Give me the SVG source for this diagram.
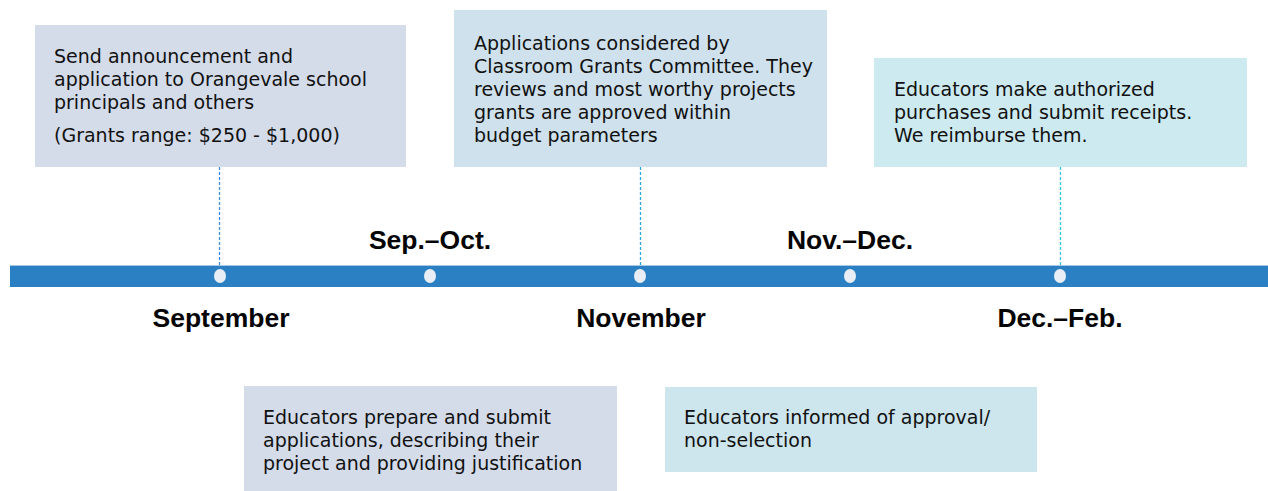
<svg xmlns="http://www.w3.org/2000/svg" width="1268" height="491" viewBox="0 0 1268 491">
<style>
.body{font-family:"DejaVu Sans","Liberation Sans",sans-serif;font-size:19px;fill:#111111}
.lbl{font-family:"Liberation Sans",Arial,sans-serif;font-size:26.5px;font-weight:bold;fill:#050505;text-anchor:middle}
.dash{stroke-width:1.3;stroke-dasharray:3 2;fill:none}
.dot{fill:#e9eef6}
</style>
<rect width="1268" height="491" fill="#ffffff"/>
<g id="connectors">
<line class="dash" x1="219.5" y1="167" x2="219.5" y2="265" stroke="#3d8ee0"/>
<line class="dash" x1="640.5" y1="167" x2="640.5" y2="265" stroke="#2aa6e0"/>
<line class="dash" x1="1060.5" y1="167" x2="1060.5" y2="265" stroke="#2cc4e0"/>
</g>
<g id="timeline">
<rect x="10" y="265" width="1258" height="22" fill="#2a80c2"/>
<line x1="10" y1="265.5" x2="1268" y2="265.5" stroke="#a9c6e2" stroke-width="1"/>
<ellipse class="dot" cx="220" cy="276" rx="6" ry="7"/>
<ellipse class="dot" cx="430" cy="276" rx="6" ry="7"/>
<ellipse class="dot" cx="640" cy="276" rx="6" ry="7"/>
<ellipse class="dot" cx="850" cy="276" rx="6" ry="7"/>
<ellipse class="dot" cx="1060" cy="276" rx="6" ry="7"/>
</g>
<g id="labels">
<text class="lbl" x="221" y="327">September</text>
<text class="lbl" x="430" y="249">Sep.–Oct.</text>
<text class="lbl" x="641" y="327">November</text>
<text class="lbl" x="850" y="249">Nov.–Dec.</text>
<text class="lbl" x="1060" y="327">Dec.–Feb.</text>
</g>
<g id="box1">
<rect x="35" y="25" width="371" height="142" fill="#d4dcea"/>
<text class="body" x="54" y="63">Send announcement and</text>
<text class="body" x="54" y="86">application to Orangevale school</text>
<text class="body" x="54" y="109">principals and others</text>
<text class="body" x="54" y="142">(Grants range: $250 - $1,000)</text>
</g>
<g id="box2">
<rect x="454" y="10" width="373" height="157" fill="#cfe1ec"/>
<text class="body" x="474" y="50">Applications considered by</text>
<text class="body" x="474" y="73">Classroom Grants Committee. They</text>
<text class="body" x="474" y="96">reviews and most worthy projects</text>
<text class="body" x="474" y="119">grants are approved within</text>
<text class="body" x="474" y="142">budget parameters</text>
</g>
<g id="box3">
<rect x="874" y="58" width="373" height="109" fill="#cdeaf0"/>
<text class="body" x="894" y="96">Educators make authorized</text>
<text class="body" x="894" y="119">purchases and submit receipts.</text>
<text class="body" x="894" y="142">We reimburse them.</text>
</g>
<g id="box4">
<rect x="244" y="386" width="373" height="105" fill="#d4dcea"/>
<text class="body" x="263" y="424">Educators prepare and submit</text>
<text class="body" x="263" y="447">applications, describing their</text>
<text class="body" x="263" y="470">project and providing justification</text>
</g>
<g id="box5">
<rect x="665" y="387" width="372" height="85" fill="#cde5ec"/>
<text class="body" x="684" y="424">Educators informed of approval/</text>
<text class="body" x="684" y="447">non-selection</text>
</g>
</svg>
